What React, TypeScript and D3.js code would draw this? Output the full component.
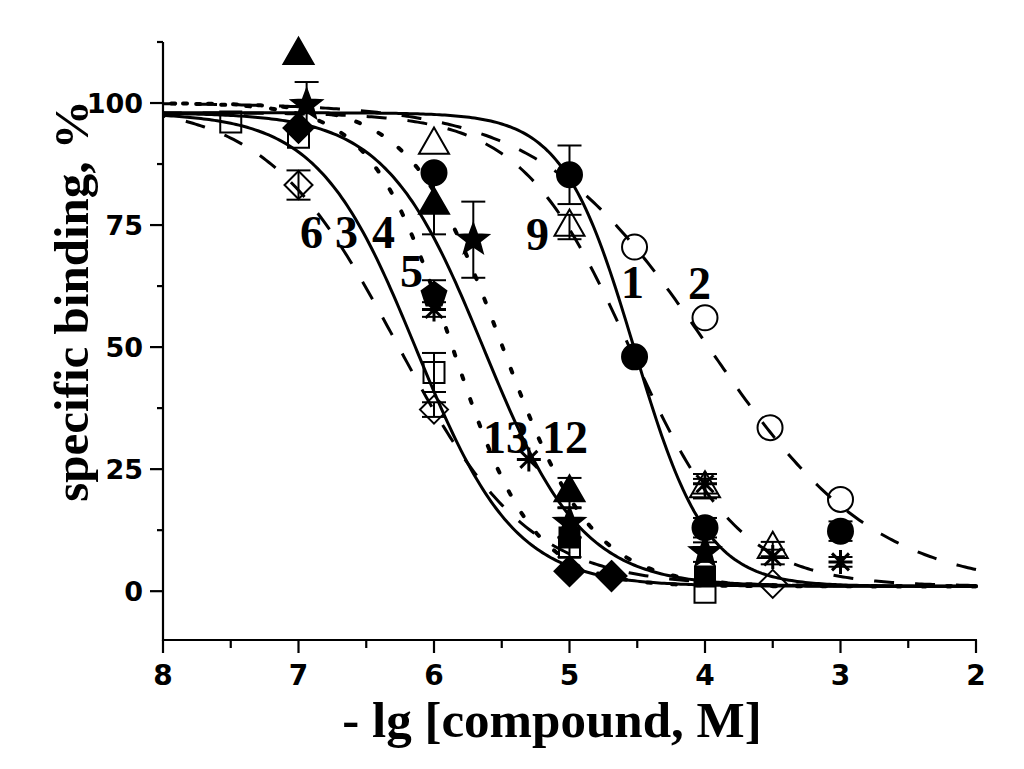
import React from "react";
import * as d3 from "d3";

// ---- axis ticks ----
const xMajorTicks = [8, 7, 6, 5, 4, 3, 2];
const xMinorTicks = [7.5, 6.5, 5.5, 4.5, 3.5, 2.5];
const yMajorTicks = [0, 25, 50, 75, 100];
const yMinorTicks = [12.5, 37.5, 62.5, 87.5, 112.5];

// ---- fitted curves (sigmoid parameters) ----
const curveNames = ["1", "2", "3", "4", "6", "9", "12", "13"];
const curveTop = [98, 100, 98, 100, 100, 98, 98, 100];
const curveBottom = [1, 0.5, 1, 1, 1, 1, 1, 1];
const curveLogIC50 = [4.52, 3.98, 6.13, 5.87, 6.27, 4.55, 5.63, 5.5];
const curveHill = [1.65, 0.7, 1.2, 1.45, 0.9, 1.08, 1.2, 1.3];
const curveStyle = ["solid", "dashed", "solid", "dotted", "dashed", "dashed", "solid", "dotted"];

// ---- data points ----
const fTriX = [7, 6, 5];
const fTriY = [109.8, 79.1, 20.2];
const fTriE = [0, 6, 3];

const fCircX = [6, 5, 4.52, 4, 3];
const fCircY = [85.7, 85.3, 48, 13, 12.3];
const fCircE = [0, 6, 0, 2, 2];

const oTriX = [6, 5, 4, 3.5];
const oTriY = [91.4, 74.6, 21, 8.6];
const oTriE = [0, 2.5, 2, 1.5];

const oCircX = [4.52, 4, 3.52, 3];
const oCircY = [70.5, 56, 33.5, 18.8];
const oCircE = [0, 0, 0, 0];

const fStarX = [6.94, 5.71, 5, 4];
const fStarY = [99.6, 72, 14, 8];
const fStarE = [4.7, 7.8, 3, 2];

const astX = [6, 5.3, 4, 3.5, 3];
const astY = [57.7, 27, 22, 7, 6];
const astE = [1.5, 0, 2, 1.5, 1];

const fDiaX = [7, 5, 4.69];
const fDiaY = [94.9, 4.1, 3.1];
const fDiaE = [0, 0, 0];

const oSqX = [7.5, 7, 6, 5, 4];
const oSqY = [96.1, 93, 44.8, 9, -0.2];
const oSqE = [0, 0, 4, 2, 0];

const oDiaX = [7, 6, 3.5];
const oDiaY = [83.2, 37.2, 1.5];
const oDiaE = [3, 1.5, 0];

const fPentX = [6];
const fPentY = [60.7];
const fPentE = [3];

const fSqX = [5, 4];
const fSqY = [11, 3];
const fSqE = [0, 0];

// ---- curve labels (data coordinates) ----
const labelText = ["6", "3", "4", "5", "9", "1", "2", "13", "12"];
const labelX = [6.989, 6.731, 6.458, 6.251, 5.321, 4.62, 4.125, 5.638, 5.203];
const labelY = [70.3, 70.3, 70.3, 62.3, 69.9, 60.1, 59.9, 28.3, 28.3];

const W = 1024;
const H = 769;

const x = d3.scaleLinear().domain([8, 2]).range([163, 976]);
const y = d3.scaleLinear().domain([-10, 112.5]).range([640, 42]);

function sig(t: number, b: number, ic: number, n: number, v: number) {
  return b + (t - b) / (1 + Math.pow(10, n * (ic - v)));
}

function triPath(s: number) {
  const h = s * 0.87;
  return `M0,${(-h * 2) / 3}L${s / 2},${h / 3}L${-s / 2},${h / 3}Z`;
}
function diaPath(r: number) {
  return `M0,${-r}L${r},0L0,${r}L${-r},0Z`;
}
function sqPath(s: number) {
  const h = s / 2;
  return `M${-h},${-h}L${h},${-h}L${h},${h}L${-h},${h}Z`;
}
function starPath(R: number) {
  const r = R * 0.42;
  const pts: string[] = [];
  for (let i = 0; i < 10; i++) {
    const a = -Math.PI / 2 + (i * Math.PI) / 5;
    const rr = i % 2 === 0 ? R : r;
    pts.push(`${rr * Math.cos(a)},${rr * Math.sin(a)}`);
  }
  return "M" + pts.join("L") + "Z";
}
function pentPath(R: number) {
  const pts: string[] = [];
  for (let i = 0; i < 5; i++) {
    const a = -Math.PI / 2 + (i * 2 * Math.PI) / 5;
    pts.push(`${R * Math.cos(a)},${R * Math.sin(a)}`);
  }
  return "M" + pts.join("L") + "Z";
}
function asteriskPath(R: number) {
  let d = "";
  for (let i = 0; i < 4; i++) {
    const a = (i * Math.PI) / 4;
    d += `M${R * Math.cos(a)},${R * Math.sin(a)}L${-R * Math.cos(a)},${-R * Math.sin(a)}`;
  }
  return d;
}

type Series = {
  xs: number[];
  ys: number[];
  es: number[];
  path: string;
  filled: boolean;
  strokeOnly?: boolean;
};

const series: Series[] = [
  { xs: oCircX, ys: oCircY, es: oCircE, path: "circle", filled: false },
  { xs: oSqX, ys: oSqY, es: oSqE, path: sqPath(21), filled: false },
  { xs: oDiaX, ys: oDiaY, es: oDiaE, path: diaPath(14), filled: false },
  { xs: oTriX, ys: oTriY, es: oTriE, path: triPath(30), filled: false },
  { xs: fSqX, ys: fSqY, es: fSqE, path: sqPath(20), filled: true },
  { xs: fDiaX, ys: fDiaY, es: fDiaE, path: diaPath(15), filled: true },
  { xs: fTriX, ys: fTriY, es: fTriE, path: triPath(30), filled: true },
  { xs: fCircX, ys: fCircY, es: fCircE, path: "circle", filled: true },
  { xs: fStarX, ys: fStarY, es: fStarE, path: starPath(16), filled: true },
  { xs: fPentX, ys: fPentY, es: fPentE, path: pentPath(13), filled: true },
  { xs: astX, ys: astY, es: astE, path: asteriskPath(12), filled: false, strokeOnly: true },
];

const dashFor: Record<string, string | undefined> = {
  solid: undefined,
  dashed: "20 21",
  dotted: "4 21",
};

export default function App() {
  const xs = d3.range(2, 8.0001, 0.02);
  const line = d3
    .line<[number, number]>()
    .x((d) => x(d[0]))
    .y((d) => y(d[1]))
    .curve(d3.curveLinear);

  const tickFont = "'DejaVu Sans', sans-serif";
  const serif = "'Liberation Serif', 'Times New Roman', serif";

  return (
    <svg
      width={W}
      height={H}
      viewBox={`0 0 ${W} ${H}`}
      style={{ position: "absolute", left: 0, top: 0, background: "#fff" }}
    >
      <rect x={0} y={0} width={W} height={H} fill="#fff" />

      {/* error bars */}
      {series.map((s, si) =>
        s.xs.map((xv, i) =>
          s.es[i] > 0 ? (
            <g key={`e${si}-${i}`} stroke="#000" strokeWidth={2}>
              <line x1={x(xv)} x2={x(xv)} y1={y(s.ys[i] - s.es[i])} y2={y(s.ys[i] + s.es[i])} />
              <line x1={x(xv) - 12} x2={x(xv) + 12} y1={y(s.ys[i] + s.es[i])} y2={y(s.ys[i] + s.es[i])} />
              <line x1={x(xv) - 12} x2={x(xv) + 12} y1={y(s.ys[i] - s.es[i])} y2={y(s.ys[i] - s.es[i])} />
            </g>
          ) : null
        )
      )}

      {/* markers */}
      {series.map((s, si) =>
        s.xs.map((xv, i) => {
          const cx = x(xv);
          const cy = y(s.ys[i]);
          if (s.path === "circle") {
            return (
              <circle
                key={`m${si}-${i}`}
                cx={cx}
                cy={cy}
                r={12.5}
                fill={s.filled ? "#000" : "none"}
                stroke="#000"
                strokeWidth={2}
              />
            );
          }
          return (
            <path
              key={`m${si}-${i}`}
              d={s.path}
              transform={`translate(${cx},${cy})`}
              fill={s.strokeOnly ? "none" : s.filled ? "#000" : "none"}
              stroke="#000"
              strokeWidth={s.strokeOnly ? 3 : 2}
            />
          );
        })
      )}

      {/* fitted curves */}
      {curveNames.map((nm, ci) => {
        const pts: [number, number][] = xs.map((v) => [
          v,
          sig(curveTop[ci], curveBottom[ci], curveLogIC50[ci], curveHill[ci], v),
        ]);
        const st = curveStyle[ci];
        return (
          <path
            key={`c${nm}`}
            d={line(pts) || ""}
            fill="none"
            stroke="#000"
            strokeWidth={st === "dotted" ? 4 : 3}
            strokeDasharray={dashFor[st]}
            strokeLinecap={st === "dotted" ? "round" : "butt"}
          />
        );
      })}

      {/* axes */}
      <g stroke="#000" strokeWidth={2.2}>
        <line x1={163} x2={163} y1={y(112.5)} y2={y(-10) + 1} />
        <line x1={162} x2={x(2) + 1} y1={y(-10)} y2={y(-10)} />
        {yMajorTicks.map((t) => (
          <line key={`ym${t}`} x1={150} x2={163} y1={y(t)} y2={y(t)} />
        ))}
        {yMinorTicks.map((t) => (
          <line key={`yn${t}`} x1={157} x2={163} y1={y(t)} y2={y(t)} />
        ))}
        {xMajorTicks.map((t) => (
          <line key={`xm${t}`} x1={x(t)} x2={x(t)} y1={640} y2={653} />
        ))}
        {xMinorTicks.map((t) => (
          <line key={`xn${t}`} x1={x(t)} x2={x(t)} y1={640} y2={648} />
        ))}
      </g>

      {/* tick labels */}
      <g fontFamily={tickFont} fontWeight="bold" fontSize={27} fill="#000">
        {yMajorTicks.map((t) => (
          <text key={`yl${t}`} x={143} y={y(t)} dy="0.36em" textAnchor="end">
            {t}
          </text>
        ))}
        {xMajorTicks.map((t) => (
          <text key={`xl${t}`} x={x(t)} y={685} textAnchor="middle" fontSize={28}>
            {t}
          </text>
        ))}
      </g>

      {/* axis titles */}
      <text
        x={552}
        y={737}
        textAnchor="middle"
        fontFamily={serif}
        fontWeight="bold"
        fontSize={51}
        fill="#000"
      >
        - lg [compound, M]
      </text>
      <text
        transform={`translate(88,301) rotate(-90)`}
        textAnchor="middle"
        fontFamily={serif}
        fontWeight="bold"
        fontSize={49}
        fill="#000"
      >
        specific binding, %
      </text>

      {/* curve labels */}
      <g fontFamily={serif} fontWeight="bold" fontSize={46} fill="#000">
        {labelText.map((t, i) => (
          <text key={`lb${i}`} x={x(labelX[i])} y={y(labelY[i])}>
            {t}
          </text>
        ))}
      </g>
    </svg>
  );
}
